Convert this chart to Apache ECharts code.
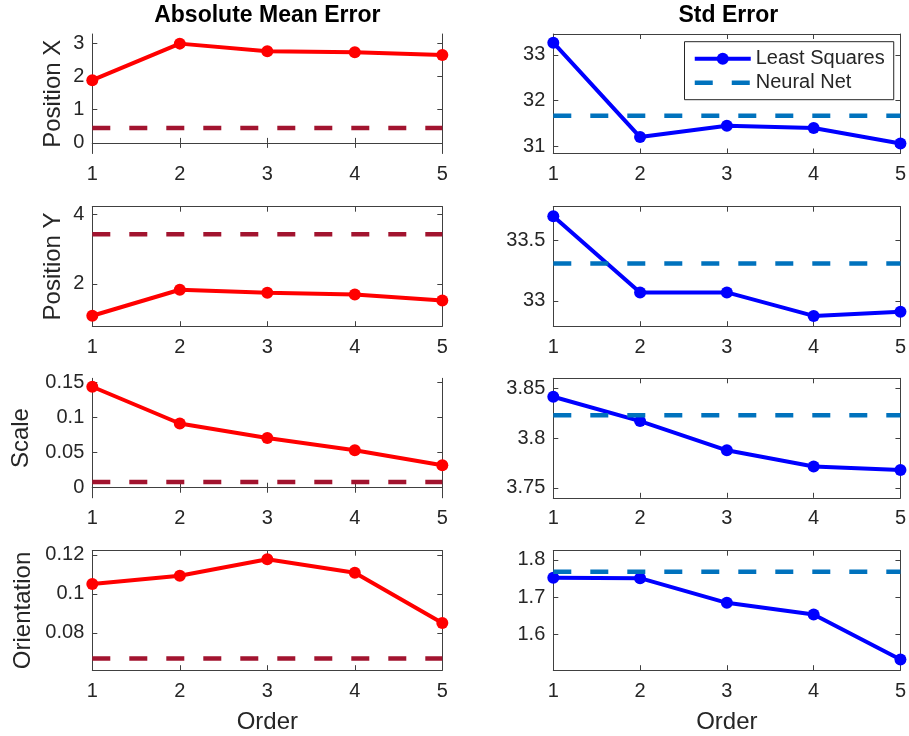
<!DOCTYPE html>
<html><head><meta charset="utf-8">
<script src="https://cdn.jsdelivr.net/npm/echarts@6/dist/echarts.min.js"></script>
<style>html,body{margin:0;padding:0;background:#fff}#c{width:909px;height:736px}</style>
</head><body><div id="c"></div>
<script>
// ---- data ----
const orders = [1, 2, 3, 4, 5];
const rowLabels = ['Position X', 'Position Y', 'Scale', 'Orientation'];
const colTitles = ['Absolute Mean Error', 'Std Error'];

const absPosX   = [1.89, 2.99, 2.76, 2.73, 2.65];
const absPosY   = [1.08, 1.83, 1.74, 1.69, 1.52];
const absScale  = [0.1437, 0.0914, 0.0709, 0.0533, 0.0319];
const absOrient = [0.1051, 0.1093, 0.1178, 0.1109, 0.0851];

const stdPosX   = [33.27, 31.20, 31.45, 31.40, 31.06];
const stdPosY   = [33.70, 33.07, 33.07, 32.875, 32.91];
const stdScale  = [3.8415, 3.817, 3.7877, 3.7715, 3.768];
const stdOrient = [1.752, 1.751, 1.6846, 1.653, 1.532];

const absNN = [0.45, 3.43, 0.008, 0.0668];
const stdNN = [31.67, 33.31, 3.823, 1.768];

const xTicks = [1, 2, 3, 4, 5];
const absTicks = [[0, 1, 2, 3], [2, 4], [0, 0.05, 0.1, 0.15], [0.08, 0.1, 0.12]];
const stdTicks = [[31, 32, 33], [33, 33.5], [3.75, 3.8, 3.85], [1.6, 1.7, 1.8]];

// ---- axis limits & layout ----
const absRange = [[-0.32, 3.28], [0.78, 4.22], [-0.0143, 0.1557], [0.0608, 0.1222]];
const stdRange = [[30.84, 33.46], [32.79, 33.78], [3.74, 3.86], [1.503, 1.825]];
const absLS = [absPosX, absPosY, absScale, absOrient];
const stdLS = [stdPosX, stdPosY, stdScale, stdOrient];

const FONT = "'Liberation Sans', Arial, Helvetica, sans-serif";
const AX = '#404040';
const TXT = '#262626';
const rowTops = [34, 206.7, 378.3, 550.7];
const rowH = 119.5;
const colLefts = [92.3, 553.3];
const colW = 350;
const nameGaps = [27, 27, 59, 57];
const NN_DASH = [18, 19];

const grids = [], xAxes = [], xAxesTop = [], yAxes = [], yAxesRight = [], series = [];

for (let r = 0; r < 4; r++) {
  for (let c = 0; c < 2; c++) {
    const g = r * 2 + c;
    grids.push({ left: colLefts[c], top: rowTops[r], width: colW, height: rowH, containLabel: false });
    const range = c === 0 ? absRange[r] : stdRange[r];
    const ticks = c === 0 ? absTicks[r] : stdTicks[r];
    const line = { show: true, lineStyle: { color: AX, width: 1 } };
    xAxes.push({
      type: 'value', gridIndex: g, min: 1, max: 5, interval: 1, position: 'bottom',
      axisLine: line, splitLine: { show: false },
      axisTick: { show: true, inside: true, length: 5, lineStyle: { color: AX }, customValues: xTicks },
      axisLabel: { show: true, fontSize: 20, color: TXT, fontFamily: FONT, margin: 11, customValues: xTicks },
      name: r === 3 ? 'Order' : '', nameLocation: 'middle', nameGap: 40,
      nameTextStyle: { fontSize: 24, color: TXT, fontFamily: FONT }
    });
    xAxesTop.push({
      type: 'value', gridIndex: g, min: 1, max: 5, interval: 1, position: 'top',
      axisLine: line, splitLine: { show: false },
      axisTick: { show: true, inside: true, length: 5, lineStyle: { color: AX }, customValues: xTicks },
      axisLabel: { show: false }
    });
    yAxes.push({
      type: 'value', gridIndex: g, min: range[0], max: range[1], position: 'left',
      axisLine: line, splitLine: { show: false },
      axisTick: { show: true, inside: true, length: 5, lineStyle: { color: AX }, customValues: ticks },
      axisLabel: { show: true, fontSize: 20, color: TXT, fontFamily: FONT, margin: 8, customValues: ticks },
      name: c === 0 ? rowLabels[r] : '', nameLocation: 'middle', nameGap: nameGaps[r],
      nameTextStyle: { fontSize: 24, color: TXT, fontFamily: FONT }
    });
    yAxesRight.push({
      type: 'value', gridIndex: g, min: range[0], max: range[1], position: 'right',
      axisLine: line, splitLine: { show: false },
      axisTick: { show: true, inside: true, length: 5, lineStyle: { color: AX }, customValues: ticks },
      axisLabel: { show: false }
    });
    const vals = c === 0 ? absLS[r] : stdLS[r];
    const nn = c === 0 ? absNN[r] : stdNN[r];
    series.push({
      name: c === 0 ? 'Least Squares (abs)' : 'Least Squares',
      type: 'line', xAxisIndex: g, yAxisIndex: g,
      data: orders.map((x, i) => [x, vals[i]]),
      symbol: 'circle', symbolSize: 12, showSymbol: true, clip: false,
      lineStyle: { width: 4, color: c === 0 ? '#ff0000' : '#0000ff' },
      itemStyle: { color: c === 0 ? '#ff0000' : '#0000ff' },
      emphasis: { disabled: true }, z: 2
    });
    series.push({
      name: c === 0 ? 'Neural Net (abs)' : 'Neural Net',
      type: 'line', xAxisIndex: g, yAxisIndex: g,
      data: orders.map(x => [x, nn]),
      symbol: 'none', clip: false,
      lineStyle: { width: 4.5, color: c === 0 ? '#a2142f' : '#0072bd', type: NN_DASH },
      itemStyle: { color: c === 0 ? '#a2142f' : '#0072bd' },
      emphasis: { disabled: true }, z: 3
    });
  }
}

const chart = echarts.init(document.getElementById('c'), null, { renderer: 'canvas' });
chart.setOption({
  animation: false,
  backgroundColor: '#fff',
  title: colTitles.map((t, c) => ({
    text: t, left: colLefts[c] + colW / 2, top: 4, textAlign: 'center', padding: 0,
    textStyle: { fontSize: 23, fontWeight: 'bold', color: '#000', fontFamily: FONT }
  })),
  legend: {
    data: [
      { name: 'Least Squares', lineStyle: { width: 4, color: '#0000ff' }, itemStyle: { color: '#0000ff' } },
      { name: 'Neural Net', lineStyle: { width: 4.5, color: '#0072bd', type: NN_DASH }, itemStyle: { color: 'rgba(0,0,0,0)', borderWidth: 0 } }
    ],
    orient: 'vertical', left: 684.5, top: 41.7,
    itemWidth: 56, itemHeight: 15, itemGap: 4,
    padding: [7, 9, 7, 8],
    borderColor: '#262626', borderWidth: 1, backgroundColor: '#fff',
    textStyle: { fontSize: 20, color: TXT, fontFamily: FONT },
    selectedMode: false
  },
  grid: grids,
  xAxis: xAxes.concat(xAxesTop),
  yAxis: yAxes.concat(yAxesRight),
  series: series
});
</script></body></html>
